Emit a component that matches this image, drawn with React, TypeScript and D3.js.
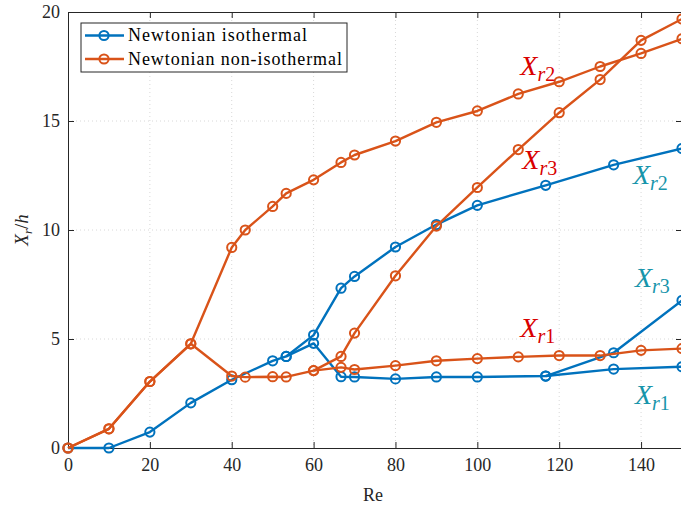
import { useRef, useEffect } from "react";
import * as d3 from "d3";

// Re values sampled for each case
const reBlue = [0, 10, 20, 30, 40, 50, 53.3, 60, 66.7, 70, 80, 90, 100, 116.7, 133.3, 150];
const reOrange = [0, 10, 20, 30, 40, 43.3, 50, 53.3, 60, 66.7, 70, 80, 90, 100, 110, 120, 130, 140, 150];

// Newtonian isothermal
const blueXr1 = [0, 0, 0.73, 2.07, 3.13, 4.0, 4.2, 4.8, 3.27, 3.26, 3.17, 3.26, 3.26, 3.3, 3.62, 3.73];
const blueXr2Re = [53.3, 60, 66.7, 70, 80, 90, 100, 116.7, 133.3, 150];
const blueXr2 = [4.2, 5.18, 7.33, 7.87, 9.22, 10.25, 11.13, 12.05, 12.99, 13.74];
const blueXr3Re = [116.7, 133.3, 150];
const blueXr3 = [3.3, 4.37, 6.77];

// Newtonian non-isothermal
const orangeXr1 = [0, 0.88, 3.05, 4.78, 3.3, 3.25, 3.27, 3.26, 3.55, 3.7, 3.6, 3.78, 4.0, 4.1, 4.18, 4.24, 4.24, 4.48, 4.56];
const orangeXr2 = [0, 0.88, 3.05, 4.78, 9.2, 10.0, 11.08, 11.68, 12.3, 13.1, 13.44, 14.08, 14.94, 15.46, 16.24, 16.8, 17.5, 18.1, 18.77];
const orangeXr3Re = [60, 66.7, 70, 80, 90, 100, 110, 120, 130, 140, 150];
const orangeXr3 = [3.55, 4.2, 5.27, 7.9, 10.18, 11.95, 13.69, 15.38, 16.9, 18.7, 19.68];

const xTicks = [0, 20, 40, 60, 80, 100, 120, 140];
const yTicks = [0, 5, 10, 15, 20];
const legendLabels = ["Newtonian isothermal", "Newtonian non-isothermal"];

const BLUE = "#0072bd";
const ORANGE = "#d95319";
const RED = "#d90000";
const TEAL = "#1795ab";
const FONT = "Liberation Serif, Tinos, Times New Roman, DejaVu Serif, Noto Serif, serif";

export default function App() {
  const svgRef = useRef<SVGSVGElement>(null);

  useEffect(() => {
    const width = 681;
    const height = 506;
    const margin = { top: 12, right: -1, bottom: 58, left: 68 };
    const innerW = width - margin.left - margin.right;
    const innerH = height - margin.top - margin.bottom;

    const svg = d3.select(svgRef.current);
    svg.selectAll("*").remove();
    svg.append("rect").attr("width", width).attr("height", height).attr("fill", "#fff");

    const g = svg.append("g").attr("transform", `translate(${margin.left},${margin.top})`);

    const x = d3.scaleLinear().domain([0, 150]).range([0, innerW]);
    const y = d3.scaleLinear().domain([0, 20]).range([innerH, 0]);

    // dotted grid
    g.append("g")
      .selectAll("line")
      .data(xTicks.slice(1))
      .enter()
      .append("line")
      .attr("x1", (d) => x(d))
      .attr("x2", (d) => x(d))
      .attr("y1", 0)
      .attr("y2", innerH)
      .attr("stroke", "#d8d8d8")
      .attr("stroke-dasharray", "1,3");
    g.append("g")
      .selectAll("line")
      .data(yTicks.slice(1, -1))
      .enter()
      .append("line")
      .attr("x1", 0)
      .attr("x2", innerW)
      .attr("y1", (d) => y(d))
      .attr("y2", (d) => y(d))
      .attr("stroke", "#d8d8d8")
      .attr("stroke-dasharray", "1,3");

    // axes box with inward ticks
    const axisColor = "#262626";
    const bottom = g
      .append("g")
      .attr("transform", `translate(0,${innerH})`)
      .call(d3.axisBottom(x).tickValues(xTicks).tickSize(-6).tickPadding(10).tickSizeOuter(0));
    const top = g.append("g").call(d3.axisTop(x).tickValues(xTicks).tickSize(-6).tickFormat(() => "").tickSizeOuter(0));
    const left = g
      .append("g")
      .call(d3.axisLeft(y).tickValues(yTicks).tickSize(-6).tickPadding(8).tickSizeOuter(0));
    const right = g
      .append("g")
      .attr("transform", `translate(${innerW},0)`)
      .call(d3.axisRight(y).tickValues(yTicks).tickSize(-6).tickFormat(() => "").tickSizeOuter(0));

    [bottom, top, left, right].forEach((a) => {
      a.attr("font-family", null).attr("font-size", null);
      a.select(".domain").attr("stroke", axisColor).attr("stroke-width", 1);
      a.selectAll(".tick line").attr("stroke", axisColor);
      a.selectAll("text")
        .attr("fill", axisColor)
        .style("font-family", FONT)
        .style("font-size", "18px");
    });

    g.append("text")
      .attr("x", innerW / 2 - 2)
      .attr("y", innerH + 53)
      .attr("text-anchor", "middle")
      .attr("fill", axisColor)
      .style("font-family", FONT)
      .style("font-size", "18px")
      .text("Re");

    const yl = g
      .append("text")
      .attr("transform", `translate(-40,${innerH / 2}) rotate(-90)`)
      .attr("text-anchor", "middle")
      .attr("fill", axisColor)
      .style("font-family", FONT)
      .style("font-size", "19px");
    yl.append("tspan").attr("font-style", "italic").text("X");
    yl.append("tspan").attr("font-style", "italic").attr("font-size", "13px").attr("dy", 4).text("r");
    yl.append("tspan").attr("dy", -4).text("/");
    yl.append("tspan").attr("font-style", "italic").text("h");

    const line = d3
      .line<[number, number]>()
      .x((d) => x(d[0]))
      .y((d) => y(d[1]));

    const series: { re: number[]; v: number[]; color: string }[] = [
      { re: reBlue, v: blueXr1, color: BLUE },
      { re: blueXr2Re, v: blueXr2, color: BLUE },
      { re: blueXr3Re, v: blueXr3, color: BLUE },
      { re: reOrange, v: orangeXr1, color: ORANGE },
      { re: reOrange, v: orangeXr2, color: ORANGE },
      { re: orangeXr3Re, v: orangeXr3, color: ORANGE },
    ];

    series.forEach((s) => {
      const pts = s.re.map((r, i) => [r, s.v[i]] as [number, number]);
      g.append("path")
        .attr("d", line(pts))
        .attr("fill", "none")
        .attr("stroke", s.color)
        .attr("stroke-width", 2.4)
        .attr("stroke-linejoin", "round");
      g.selectAll(null)
        .data(pts)
        .enter()
        .append("circle")
        .attr("cx", (d) => x(d[0]))
        .attr("cy", (d) => y(d[1]))
        .attr("r", 4.6)
        .attr("fill", "none")
        .attr("stroke", s.color)
        .attr("stroke-width", 2);
    });

    // curve labels
    const labels = [
      { re: 110.5, v: 17.1, sub: "r2", color: RED },
      { re: 111, v: 12.8, sub: "r3", color: RED },
      { re: 110.5, v: 5.1, sub: "r1", color: RED },
      { re: 138, v: 12.1, sub: "r2", color: TEAL },
      { re: 138.5, v: 7.4, sub: "r3", color: TEAL },
      { re: 138.5, v: 2.0, sub: "r1", color: TEAL },
    ];
    labels.forEach((l) => {
      const t = g
        .append("text")
        .attr("x", x(l.re))
        .attr("y", y(l.v))
        .attr("fill", l.color)
        .style("font-family", FONT)
        .style("font-size", "28px");
      t.append("tspan").attr("font-style", "italic").text("X");
      t.append("tspan").attr("font-style", "italic").attr("font-size", "20px").attr("dy", 6).text(l.sub[0]);
      t.append("tspan").attr("font-size", "20px").text(l.sub[1]);
    });

    // legend
    const lg = svg.append("g").attr("transform", "translate(81,23)");
    lg.append("rect")
      .attr("width", 266)
      .attr("height", 49)
      .attr("fill", "#fff")
      .attr("stroke", axisColor)
      .attr("stroke-width", 1);
    [BLUE, ORANGE].forEach((c, i) => {
      const cy = 12.5 + i * 23.5;
      lg.append("line")
        .attr("x1", 4)
        .attr("x2", 43)
        .attr("y1", cy)
        .attr("y2", cy)
        .attr("stroke", c)
        .attr("stroke-width", 2.4);
      lg.append("circle").attr("cx", 23).attr("cy", cy).attr("r", 4.6).attr("fill", "none").attr("stroke", c).attr("stroke-width", 2);
      lg.append("text")
        .attr("x", 47)
        .attr("y", cy + 5.5)
        .attr("fill", "#000")
        .attr("textLength", i === 0 ? 179 : 214)
        .attr("lengthAdjust", "spacing")
        .style("font-family", FONT)
        .style("font-size", "18px")
        .text(legendLabels[i]);
    });
  }, []);

  return <svg ref={svgRef} width={681} height={506} style={{ position: "absolute", left: 0, top: 0, display: "block" }} />;
}
